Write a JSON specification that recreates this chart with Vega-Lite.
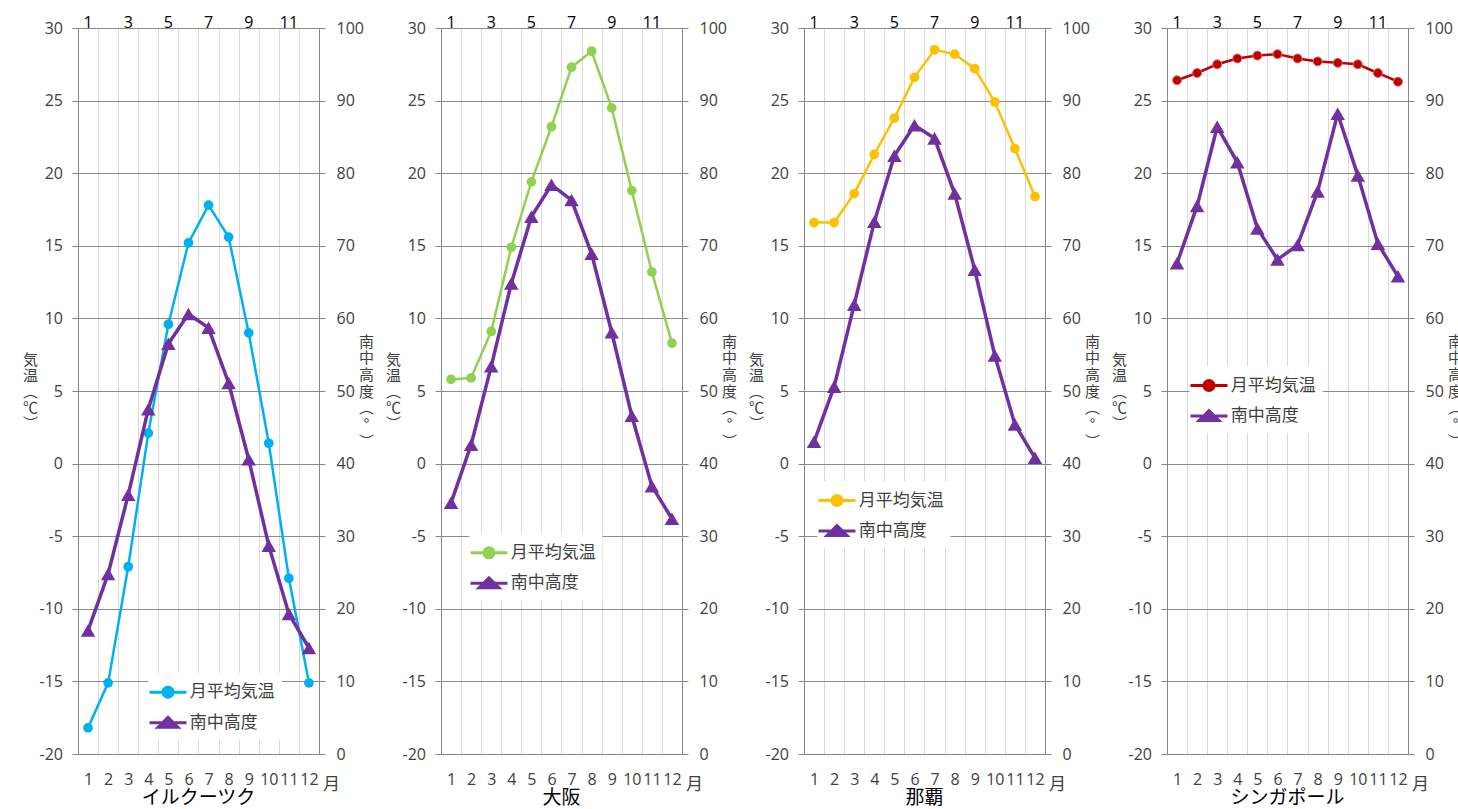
{
  "$schema": "https://vega.github.io/schema/vega-lite/v6.json",
  "background": "white",
  "padding": {"left": 22, "top": 14, "right": 0, "bottom": 0},
  "datasets": {
    "irkutsk": [
      {"month": 1, "series": "月平均気温", "value": -18.2}, {"month": 2, "series": "月平均気温", "value": -15.1},
      {"month": 3, "series": "月平均気温", "value": -7.1}, {"month": 4, "series": "月平均気温", "value": 2.1},
      {"month": 5, "series": "月平均気温", "value": 9.6}, {"month": 6, "series": "月平均気温", "value": 15.2},
      {"month": 7, "series": "月平均気温", "value": 17.8}, {"month": 8, "series": "月平均気温", "value": 15.6},
      {"month": 9, "series": "月平均気温", "value": 9.0}, {"month": 10, "series": "月平均気温", "value": 1.4},
      {"month": 11, "series": "月平均気温", "value": -7.9}, {"month": 12, "series": "月平均気温", "value": -15.1},
      {"month": 1, "series": "南中高度", "value": 17.0}, {"month": 2, "series": "南中高度", "value": 24.8},
      {"month": 3, "series": "南中高度", "value": 35.7}, {"month": 4, "series": "南中高度", "value": 47.5},
      {"month": 5, "series": "南中高度", "value": 56.5}, {"month": 6, "series": "南中高度", "value": 60.6},
      {"month": 7, "series": "南中高度", "value": 58.7}, {"month": 8, "series": "南中高度", "value": 51.1},
      {"month": 9, "series": "南中高度", "value": 40.6}, {"month": 10, "series": "南中高度", "value": 28.7},
      {"month": 11, "series": "南中高度", "value": 19.3}, {"month": 12, "series": "南中高度", "value": 14.6}
    ],
    "osaka": [
      {"month": 1, "series": "月平均気温", "value": 5.8}, {"month": 2, "series": "月平均気温", "value": 5.9},
      {"month": 3, "series": "月平均気温", "value": 9.1}, {"month": 4, "series": "月平均気温", "value": 14.9},
      {"month": 5, "series": "月平均気温", "value": 19.4}, {"month": 6, "series": "月平均気温", "value": 23.2},
      {"month": 7, "series": "月平均気温", "value": 27.3}, {"month": 8, "series": "月平均気温", "value": 28.4},
      {"month": 9, "series": "月平均気温", "value": 24.5}, {"month": 10, "series": "月平均気温", "value": 18.8},
      {"month": 11, "series": "月平均気温", "value": 13.2}, {"month": 12, "series": "月平均気温", "value": 8.3},
      {"month": 1, "series": "南中高度", "value": 34.6}, {"month": 2, "series": "南中高度", "value": 42.6},
      {"month": 3, "series": "南中高度", "value": 53.4}, {"month": 4, "series": "南中高度", "value": 64.8},
      {"month": 5, "series": "南中高度", "value": 74.0}, {"month": 6, "series": "南中高度", "value": 78.4},
      {"month": 7, "series": "南中高度", "value": 76.3}, {"month": 8, "series": "南中高度", "value": 68.9},
      {"month": 9, "series": "南中高度", "value": 58.1}, {"month": 10, "series": "南中高度", "value": 46.6},
      {"month": 11, "series": "南中高度", "value": 36.9}, {"month": 12, "series": "南中高度", "value": 32.4}
    ],
    "naha": [
      {"month": 1, "series": "月平均気温", "value": 16.6}, {"month": 2, "series": "月平均気温", "value": 16.6},
      {"month": 3, "series": "月平均気温", "value": 18.6}, {"month": 4, "series": "月平均気温", "value": 21.3},
      {"month": 5, "series": "月平均気温", "value": 23.8}, {"month": 6, "series": "月平均気温", "value": 26.6},
      {"month": 7, "series": "月平均気温", "value": 28.5}, {"month": 8, "series": "月平均気温", "value": 28.2},
      {"month": 9, "series": "月平均気温", "value": 27.2}, {"month": 10, "series": "月平均気温", "value": 24.9},
      {"month": 11, "series": "月平均気温", "value": 21.7}, {"month": 12, "series": "月平均気温", "value": 18.4},
      {"month": 1, "series": "南中高度", "value": 43.0}, {"month": 2, "series": "南中高度", "value": 50.6},
      {"month": 3, "series": "南中高度", "value": 61.9}, {"month": 4, "series": "南中高度", "value": 73.3},
      {"month": 5, "series": "南中高度", "value": 82.4}, {"month": 6, "series": "南中高度", "value": 86.6},
      {"month": 7, "series": "南中高度", "value": 84.8}, {"month": 8, "series": "南中高度", "value": 77.2},
      {"month": 9, "series": "南中高度", "value": 66.7}, {"month": 10, "series": "南中高度", "value": 54.9},
      {"month": 11, "series": "南中高度", "value": 45.4}, {"month": 12, "series": "南中高度", "value": 40.8}
    ],
    "singapore": [
      {"month": 1, "series": "月平均気温", "value": 26.4}, {"month": 2, "series": "月平均気温", "value": 26.9},
      {"month": 3, "series": "月平均気温", "value": 27.5}, {"month": 4, "series": "月平均気温", "value": 27.9},
      {"month": 5, "series": "月平均気温", "value": 28.1}, {"month": 6, "series": "月平均気温", "value": 28.2},
      {"month": 7, "series": "月平均気温", "value": 27.9}, {"month": 8, "series": "月平均気温", "value": 27.7},
      {"month": 9, "series": "月平均気温", "value": 27.6}, {"month": 10, "series": "月平均気温", "value": 27.5},
      {"month": 11, "series": "月平均気温", "value": 26.9}, {"month": 12, "series": "月平均気温", "value": 26.3},
      {"month": 1, "series": "南中高度", "value": 67.6}, {"month": 2, "series": "南中高度", "value": 75.5},
      {"month": 3, "series": "南中高度", "value": 86.4}, {"month": 4, "series": "南中高度", "value": 81.5},
      {"month": 5, "series": "南中高度", "value": 72.4}, {"month": 6, "series": "南中高度", "value": 68.1},
      {"month": 7, "series": "南中高度", "value": 70.1}, {"month": 8, "series": "南中高度", "value": 77.5},
      {"month": 9, "series": "南中高度", "value": 88.2}, {"month": 10, "series": "南中高度", "value": 79.7},
      {"month": 11, "series": "南中高度", "value": 70.3}, {"month": 12, "series": "南中高度", "value": 65.8}
    ]
  },
  "spacing": 122,
  "bounds": "flush",
  "resolve": {"scale": {"color": "independent", "x": "independent", "y": "independent"}, "legend": {"color": "independent"}},
  "hconcat": [
    {
      "width": 241, "height": 726,
      "data": {"name": "irkutsk"},
      "title": {"text": "イルクーツク"},
      "layer": [
        {
          "transform": [{"filter": "datum.series === '月平均気温'"}],
          "mark": {"type": "line", "strokeWidth": 2.5, "point": {"filled": true, "shape": "circle", "size": 95, "opacity": 1}},
          "encoding": {
            "x": {"field": "month", "type": "ordinal", "bandPosition": 0.5, "scale": {"type": "band", "paddingInner": 0, "paddingOuter": 0},
              "axis": {"orient": "bottom", "title": "月", "titleX": 253, "titleY": 30, "titleAlign": "center", "titleBaseline": "middle", "titleFontSize": 17, "titleAngle": 0, "labelAngle": 0, "labelPadding": 17, "labelOverlap": false, "ticks": false, "tickBand": "extent", "grid": true, "gridColor": "#d9d9d9", "domainColor": "#868686"}},
            "y": {"field": "value", "type": "quantitative", "scale": {"domain": [-20, 30], "nice": false, "zero": false},
              "axis": {"orient": "left", "values": [-20, -15, -10, -5, 0, 5, 10, 15, 20, 25, 30], "grid": true, "gridColor": "#8c8c8c", "tickSize": 6, "labelPadding": 9.5, "labelExpr": "toString(datum.value)", "title": ["気", "温", "︵", "℃", "︶"], "titleX": -48, "titleY": 331, "titleAngle": 0, "titleAlign": "center", "titleBaseline": "middle", "titleFontSize": 15, "titleLineHeight": 16}},
            "color": {"field": "series", "type": "nominal", "scale": {"domain": ["月平均気温", "南中高度"], "range": ["#00B0F0", "#7030A0"]},
              "legend": {"orient": "none", "legendX": 70.5, "legendY": 644.7, "title": null, "direction": "vertical", "fillColor": "white", "padding": 6, "symbolSize": 576, "symbolStrokeWidth": 3, "rowPadding": 5.5, "labelOffset": 8.2, "labelFontSize": 17, "labelFont": "Noto Sans CJK JP", "labelColor": "#404040", "labelLimit": 300,
                "encode": {"symbols": {"update": {
                  "size": {"value": 576},
                  "shape": {"signal": "datum.value === '月平均気温' ? 'M-1.54,0H1.54M-0.42,0A0.42,0.42,0,1,1,0.42,0A0.42,0.42,0,1,1,-0.42,0Z' : 'M-1.54,0H1.54M-0.83,0.38L0,-0.45L0.83,0.38Z'"},
                  "fill": {"signal": "datum.value === '月平均気温' ? '#00B0F0' : '#7030A0'"},
                  "stroke": {"signal": "datum.value === '月平均気温' ? '#00B0F0' : '#7030A0'"},
                  "strokeWidth": {"value": 3},
                  "opacity": {"value": 1}}}}}}
          }
        },
        {
          "transform": [{"filter": "datum.series === '南中高度'"}],
          "mark": {"type": "line", "strokeWidth": 3.5, "point": {"filled": true, "shape": "triangle-up", "size": 210, "opacity": 1}},
          "encoding": {
            "x": {"field": "month", "type": "ordinal", "bandPosition": 0.5, "scale": {"type": "band", "paddingInner": 0, "paddingOuter": 0},
              "axis": {"orient": "top", "values": [1, 3, 5, 7, 9, 11], "title": null, "grid": false, "ticks": false, "tickSize": 0, "domain": false, "labelAngle": 0, "labelPadding": -2, "labelColor": "#000000", "labelOverlap": false}},
            "y": {"field": "value", "type": "quantitative", "scale": {"domain": [0, 100], "nice": false, "zero": false},
              "axis": {"orient": "right", "values": [0, 10, 20, 30, 40, 50, 60, 70, 80, 90, 100], "grid": false, "tickSize": 6, "labelPadding": 11, "title": ["南", "中", "高", "度", "︵", "°", "︶"], "titleX": 47, "titleY": 313, "titleAngle": 0, "titleAlign": "center", "titleBaseline": "middle", "titleFontSize": 15, "titleLineHeight": 16.7}},
            "color": {"field": "series", "type": "nominal"}
          }
        }
      ],
      "resolve": {"scale": {"y": "independent"}, "axis": {"x": "independent", "y": "independent"}}
    },
    {
      "width": 241, "height": 726,
      "data": {"name": "osaka"},
      "title": {"text": "大阪"},
      "layer": [
        {
          "transform": [{"filter": "datum.series === '月平均気温'"}],
          "mark": {"type": "line", "strokeWidth": 2.5, "point": {"filled": true, "shape": "circle", "size": 95, "opacity": 1}},
          "encoding": {
            "x": {"field": "month", "type": "ordinal", "bandPosition": 0.5, "scale": {"type": "band", "paddingInner": 0, "paddingOuter": 0},
              "axis": {"orient": "bottom", "title": "月", "titleX": 253, "titleY": 30, "titleAlign": "center", "titleBaseline": "middle", "titleFontSize": 17, "titleAngle": 0, "labelAngle": 0, "labelPadding": 17, "labelOverlap": false, "ticks": false, "tickBand": "extent", "grid": true, "gridColor": "#d9d9d9", "domainColor": "#868686"}},
            "y": {"field": "value", "type": "quantitative", "scale": {"domain": [-20, 30], "nice": false, "zero": false},
              "axis": {"orient": "left", "values": [-20, -15, -10, -5, 0, 5, 10, 15, 20, 25, 30], "grid": true, "gridColor": "#8c8c8c", "tickSize": 6, "labelPadding": 9.5, "labelExpr": "toString(datum.value)", "title": ["気", "温", "︵", "℃", "︶"], "titleX": -48, "titleY": 331, "titleAngle": 0, "titleAlign": "center", "titleBaseline": "middle", "titleFontSize": 15, "titleLineHeight": 16}},
            "color": {"field": "series", "type": "nominal", "scale": {"domain": ["月平均気温", "南中高度"], "range": ["#92D050", "#7030A0"]},
              "legend": {"orient": "none", "legendX": 28.5, "legendY": 505.3, "title": null, "direction": "vertical", "fillColor": "white", "padding": 6, "symbolSize": 576, "symbolStrokeWidth": 3, "rowPadding": 5.5, "labelOffset": 8.2, "labelFontSize": 17, "labelFont": "Noto Sans CJK JP", "labelColor": "#404040", "labelLimit": 300,
                "encode": {"symbols": {"update": {
                  "size": {"value": 576},
                  "shape": {"signal": "datum.value === '月平均気温' ? 'M-1.54,0H1.54M-0.42,0A0.42,0.42,0,1,1,0.42,0A0.42,0.42,0,1,1,-0.42,0Z' : 'M-1.54,0H1.54M-0.83,0.38L0,-0.45L0.83,0.38Z'"},
                  "fill": {"signal": "datum.value === '月平均気温' ? '#92D050' : '#7030A0'"},
                  "stroke": {"signal": "datum.value === '月平均気温' ? '#92D050' : '#7030A0'"},
                  "strokeWidth": {"value": 3},
                  "opacity": {"value": 1}}}}}}
          }
        },
        {
          "transform": [{"filter": "datum.series === '南中高度'"}],
          "mark": {"type": "line", "strokeWidth": 3.5, "point": {"filled": true, "shape": "triangle-up", "size": 210, "opacity": 1}},
          "encoding": {
            "x": {"field": "month", "type": "ordinal", "bandPosition": 0.5, "scale": {"type": "band", "paddingInner": 0, "paddingOuter": 0},
              "axis": {"orient": "top", "values": [1, 3, 5, 7, 9, 11], "title": null, "grid": false, "ticks": false, "tickSize": 0, "domain": false, "labelAngle": 0, "labelPadding": -2, "labelColor": "#000000", "labelOverlap": false}},
            "y": {"field": "value", "type": "quantitative", "scale": {"domain": [0, 100], "nice": false, "zero": false},
              "axis": {"orient": "right", "values": [0, 10, 20, 30, 40, 50, 60, 70, 80, 90, 100], "grid": false, "tickSize": 6, "labelPadding": 11, "title": ["南", "中", "高", "度", "︵", "°", "︶"], "titleX": 47, "titleY": 313, "titleAngle": 0, "titleAlign": "center", "titleBaseline": "middle", "titleFontSize": 15, "titleLineHeight": 16.7}},
            "color": {"field": "series", "type": "nominal"}
          }
        }
      ],
      "resolve": {"scale": {"y": "independent"}, "axis": {"x": "independent", "y": "independent"}}
    },
    {
      "width": 241, "height": 726,
      "data": {"name": "naha"},
      "title": {"text": "那覇"},
      "layer": [
        {
          "transform": [{"filter": "datum.series === '月平均気温'"}],
          "mark": {"type": "line", "strokeWidth": 2.5, "point": {"filled": true, "shape": "circle", "size": 95, "opacity": 1}},
          "encoding": {
            "x": {"field": "month", "type": "ordinal", "bandPosition": 0.5, "scale": {"type": "band", "paddingInner": 0, "paddingOuter": 0},
              "axis": {"orient": "bottom", "title": "月", "titleX": 253, "titleY": 30, "titleAlign": "center", "titleBaseline": "middle", "titleFontSize": 17, "titleAngle": 0, "labelAngle": 0, "labelPadding": 17, "labelOverlap": false, "ticks": false, "tickBand": "extent", "grid": true, "gridColor": "#d9d9d9", "domainColor": "#868686"}},
            "y": {"field": "value", "type": "quantitative", "scale": {"domain": [-20, 30], "nice": false, "zero": false},
              "axis": {"orient": "left", "values": [-20, -15, -10, -5, 0, 5, 10, 15, 20, 25, 30], "grid": true, "gridColor": "#8c8c8c", "tickSize": 6, "labelPadding": 9.5, "labelExpr": "toString(datum.value)", "title": ["気", "温", "︵", "℃", "︶"], "titleX": -48, "titleY": 331, "titleAngle": 0, "titleAlign": "center", "titleBaseline": "middle", "titleFontSize": 15, "titleLineHeight": 16}},
            "color": {"field": "series", "type": "nominal", "scale": {"domain": ["月平均気温", "南中高度"], "range": ["#FFC000", "#7030A0"]},
              "legend": {"orient": "none", "legendX": 13.5, "legendY": 453, "title": null, "direction": "vertical", "fillColor": "white", "padding": 6, "symbolSize": 576, "symbolStrokeWidth": 3, "rowPadding": 5.5, "labelOffset": 8.2, "labelFontSize": 17, "labelFont": "Noto Sans CJK JP", "labelColor": "#404040", "labelLimit": 300,
                "encode": {"symbols": {"update": {
                  "size": {"value": 576},
                  "shape": {"signal": "datum.value === '月平均気温' ? 'M-1.54,0H1.54M-0.42,0A0.42,0.42,0,1,1,0.42,0A0.42,0.42,0,1,1,-0.42,0Z' : 'M-1.54,0H1.54M-0.83,0.38L0,-0.45L0.83,0.38Z'"},
                  "fill": {"signal": "datum.value === '月平均気温' ? '#FFC000' : '#7030A0'"},
                  "stroke": {"signal": "datum.value === '月平均気温' ? '#FFC000' : '#7030A0'"},
                  "strokeWidth": {"value": 3},
                  "opacity": {"value": 1}}}}}}
          }
        },
        {
          "transform": [{"filter": "datum.series === '南中高度'"}],
          "mark": {"type": "line", "strokeWidth": 3.5, "point": {"filled": true, "shape": "triangle-up", "size": 210, "opacity": 1}},
          "encoding": {
            "x": {"field": "month", "type": "ordinal", "bandPosition": 0.5, "scale": {"type": "band", "paddingInner": 0, "paddingOuter": 0},
              "axis": {"orient": "top", "values": [1, 3, 5, 7, 9, 11], "title": null, "grid": false, "ticks": false, "tickSize": 0, "domain": false, "labelAngle": 0, "labelPadding": -2, "labelColor": "#000000", "labelOverlap": false}},
            "y": {"field": "value", "type": "quantitative", "scale": {"domain": [0, 100], "nice": false, "zero": false},
              "axis": {"orient": "right", "values": [0, 10, 20, 30, 40, 50, 60, 70, 80, 90, 100], "grid": false, "tickSize": 6, "labelPadding": 11, "title": ["南", "中", "高", "度", "︵", "°", "︶"], "titleX": 47, "titleY": 313, "titleAngle": 0, "titleAlign": "center", "titleBaseline": "middle", "titleFontSize": 15, "titleLineHeight": 16.7}},
            "color": {"field": "series", "type": "nominal"}
          }
        }
      ],
      "resolve": {"scale": {"y": "independent"}, "axis": {"x": "independent", "y": "independent"}}
    },
    {
      "width": 241, "height": 726,
      "data": {"name": "singapore"},
      "title": {"text": "シンガポール"},
      "layer": [
        {
          "transform": [{"filter": "datum.series === '月平均気温'"}],
          "mark": {"type": "line", "strokeWidth": 2.5, "point": {"filled": true, "shape": "circle", "size": 80, "opacity": 1, "stroke": "#d86a6a", "strokeWidth": 1}},
          "encoding": {
            "x": {"field": "month", "type": "ordinal", "bandPosition": 0.5, "scale": {"type": "band", "paddingInner": 0, "paddingOuter": 0},
              "axis": {"orient": "bottom", "title": "月", "titleX": 253, "titleY": 30, "titleAlign": "center", "titleBaseline": "middle", "titleFontSize": 17, "titleAngle": 0, "labelAngle": 0, "labelPadding": 17, "labelOverlap": false, "ticks": false, "tickBand": "extent", "grid": true, "gridColor": "#d9d9d9", "domainColor": "#868686"}},
            "y": {"field": "value", "type": "quantitative", "scale": {"domain": [-20, 30], "nice": false, "zero": false},
              "axis": {"orient": "left", "values": [-20, -15, -10, -5, 0, 5, 10, 15, 20, 25, 30], "grid": true, "gridColor": "#8c8c8c", "tickSize": 6, "labelPadding": 9.5, "labelExpr": "toString(datum.value)", "title": ["気", "温", "︵", "℃", "︶"], "titleX": -48, "titleY": 331, "titleAngle": 0, "titleAlign": "center", "titleBaseline": "middle", "titleFontSize": 15, "titleLineHeight": 16}},
            "color": {"field": "series", "type": "nominal", "scale": {"domain": ["月平均気温", "南中高度"], "range": ["#C00000", "#7030A0"]},
              "legend": {"orient": "none", "legendX": 22.5, "legendY": 338, "title": null, "direction": "vertical", "fillColor": "white", "padding": 6, "symbolSize": 576, "symbolStrokeWidth": 3, "rowPadding": 5.5, "labelOffset": 8.2, "labelFontSize": 17, "labelFont": "Noto Sans CJK JP", "labelColor": "#404040", "labelLimit": 300,
                "encode": {"symbols": {"update": {
                  "size": {"value": 576},
                  "shape": {"signal": "datum.value === '月平均気温' ? 'M-1.54,0H1.54M-0.42,0A0.42,0.42,0,1,1,0.42,0A0.42,0.42,0,1,1,-0.42,0Z' : 'M-1.54,0H1.54M-0.83,0.38L0,-0.45L0.83,0.38Z'"},
                  "fill": {"signal": "datum.value === '月平均気温' ? '#C00000' : '#7030A0'"},
                  "stroke": {"signal": "datum.value === '月平均気温' ? '#C00000' : '#7030A0'"},
                  "strokeWidth": {"value": 3},
                  "opacity": {"value": 1}}}}}}
          }
        },
        {
          "transform": [{"filter": "datum.series === '南中高度'"}],
          "mark": {"type": "line", "strokeWidth": 3.5, "point": {"filled": true, "shape": "triangle-up", "size": 210, "opacity": 1}},
          "encoding": {
            "x": {"field": "month", "type": "ordinal", "bandPosition": 0.5, "scale": {"type": "band", "paddingInner": 0, "paddingOuter": 0},
              "axis": {"orient": "top", "values": [1, 3, 5, 7, 9, 11], "title": null, "grid": false, "ticks": false, "tickSize": 0, "domain": false, "labelAngle": 0, "labelPadding": -2, "labelColor": "#000000", "labelOverlap": false}},
            "y": {"field": "value", "type": "quantitative", "scale": {"domain": [0, 100], "nice": false, "zero": false},
              "axis": {"orient": "right", "values": [0, 10, 20, 30, 40, 50, 60, 70, 80, 90, 100], "grid": false, "tickSize": 6, "labelPadding": 11, "title": ["南", "中", "高", "度", "︵", "°", "︶"], "titleX": 47, "titleY": 313, "titleAngle": 0, "titleAlign": "center", "titleBaseline": "middle", "titleFontSize": 15, "titleLineHeight": 16.7}},
            "color": {"field": "series", "type": "nominal"}
          }
        }
      ],
      "resolve": {"scale": {"y": "independent"}, "axis": {"x": "independent", "y": "independent"}}
    }
  ],
  "config": {
    "view": {"stroke": null},
    "font": "Noto Sans CJK JP",
    "axis": {"labelFont": "Open Sans", "labelFontSize": 16, "labelColor": "#404040", "titleFont": "Noto Sans CJK JP", "titleFontWeight": "normal", "titleColor": "#404040", "domainColor": "#868686", "tickColor": "#868686", "domainWidth": 1, "gridWidth": 1},
    "title": {"orient": "bottom", "anchor": "middle", "offset": -3, "fontSize": 19, "fontWeight": "normal", "font": "Noto Sans CJK JP", "color": "#000000"}
  }
}
